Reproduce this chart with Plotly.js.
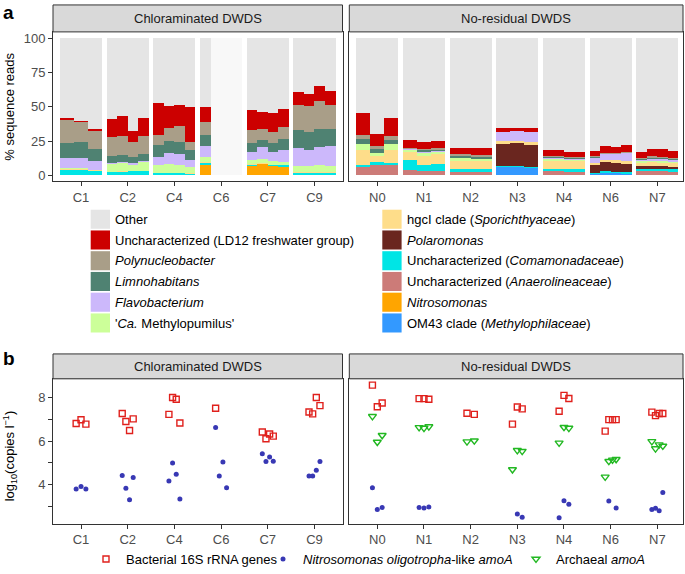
<!DOCTYPE html>
<html><head><meta charset="utf-8">
<script src="https://cdn.plot.ly/plotly-3.0.1.min.js"></script>
<style>html,body{margin:0;padding:0;background:#fff}</style>
</head><body><div id="chart" style="width:685px;height:574px"></div>
<script>
// ---------- Panel a: relative abundance (% sequence reads) ----------
const sitesChlor = ['C1','C2','C4','C6','C7','C9'];
const sitesNoRes = ['N0','N1','N2','N3','N4','N6','N7'];
const stripLabels = ['Chloraminated DWDS','No-residual DWDS'];

const sampleSiteA = ['C1','C1','C1','C2','C2','C2','C2','C4','C4','C4','C4','C6','C6','C6','C6',
  'C7','C7','C7','C7','C9','C9','C9','C9','N0','N0','N0','N1','N1','N1','N2','N2',
  'N3','N3','N3','N4','N4','N6','N6','N6','N6','N7','N7','N7','N7'];

const taxaNames = ['Other','Uncharacterized (LD12 freshwater group)','<i>Polynucleobacter</i>',
  '<i>Limnohabitans</i>','<i>Flavobacterium</i>',"'<i>Ca.</i> Methylopumilus'",
  'hgcI clade (<i>Sporichthyaceae</i>)','<i>Polaromonas</i>','Uncharacterized (<i>Comamonadaceae</i>)',
  'Uncharacterized (<i>Anaerolineaceae</i>)','<i>Nitrosomonas</i>','OM43 clade (<i>Methylophilaceae</i>)'];
const taxaColors = ['#e5e5e5','#cc0000','#a99e88','#4f8272','#ccb8fb','#ccff99',
  '#fedd8a','#6a261f','#00e5e5','#cc7b78','#ffa500','#3399ff'];
const noDataColor = '#f8f8f8';

const other   = [58.3,60.1,66.5, 59.0,57.0,67.6,57.9, 47.5,49.2,48.9,49.9, 50.1,null,null,null, 52.5,53.9,54.4,51.9, 38.8,40.6,34.9,38.4,
                 54.2,69.9,58.1, 74.3,75.9,74.8, 80.4,80.0, 65.3,65.6,65.8, 81.9,82.8, 82.2,79.0,79.2,78.2, 82.7,80.8,81.0,82.3];
const ld12    = [1.2,1.2,1.5, 13.0,14.0,8.4,13.5, 23.1,16.6,15.0,25.8, 11.1,null,null,null, 14.5,12.6,14.0,12.8, 10.1,8.9,10.9,10.6,
                 16.4,8.7,13.2, 5.5,4.8,5.5, 4.4,5.5, 2.9,1.9,2.4, 4.1,3.9, 4.1,4.8,4.6,5.1, 4.8,5.5,5.8,4.8];
const polynuc = [17.3,14.5,12.7, 13.7,14.0,10.9,13.0, 7.2,8.9,11.5,6.0, 9.1,null,null,null, 9.2,7.4,7.9,9.1, 18.1,18.6,20.7,16.9,
                 3.1,2.1,2.9, 0.7,1.2,1.0, 1.2,1.2, 0,0,0, 0.9,0.9, 0.6,0.4,0.4,0.4, 0.6,0.9,0.7,0.9];
const limno   = [10.9,11.6,8.7, 5.3,5.5,4.3,5.3, 8.9,9.2,9.2,7.3, 8.2,null,null,null, 6.5,5.8,7.0,7.7, 13.3,13.7,13.0,12.5,
                 3.4,2.9,3.1, 0.5,1.0,1.0, 1.2,1.2, 0,0,0, 0.8,0.8, 0.6,0.4,0.4,0.4, 0.6,0.8,0.7,0.8];
const flavo   = [6.7,7.2,6.5, 0.7,0.7,1.0,1.0, 5.6,7.9,8.2,5.0, 8.4,null,null,null, 6.5,8.7,6.3,8.5, 13.0,11.6,12.8,15.0,
                 0,0,0, 0.8,0.8,0.5, 0.3,0.3, 6.7,7.7,7.2, 0.3,0.3, 3.6,4.1,4.6,5.3, 1.2,1.9,1.7,1.2];
const methylo = [1.2,1.0,0.3, 5.8,6.0,4.8,6.3, 6.0,6.5,5.5,4.6, 3.6,null,null,null, 2.8,2.9,2.9,2.7, 4.3,4.3,5.4,4.3,
                 4.3,2.2,4.1, 0.9,2.1,1.8, 2.4,1.7, 0,0,0, 1.9,1.2, 0,0,0,0, 1.2,0.7,1.2,1.2];
const hgcI    = [0.3,0.3,0.5, 0.3,0.3,0.3,0.3, 0.3,0.3,0.3,0.5, 0.3,null,null,null, 0.3,0.4,0.3,0.2, 0.6,0.5,0.5,0.5,
                 10.9,4.8,9.7, 6.0,6.5,7.2, 5.3,5.5, 2.2,1.2,2.4, 5.3,5.3, 1.7,1.9,1.9,2.4, 2.4,2.9,2.4,3.1];
const polaro  = [0,0,0, 0,0,0,0, 0,0,0,0, 0,null,null,null, 0,0,0,0, 0,0,0,0,
                 0,0,0, 0,0,0, 0,0, 16.4,17.1,16.2, 0,0, 5.5,6.5,6.5,6.0, 1.9,1.7,1.7,1.4];
const comam   = [3.8,3.8,3.0, 1.9,2.2,2.4,2.4, 1.0,1.2,1.2,0.7, 1.7,null,null,null, 1.0,0.4,0.7,0.8, 1.5,1.5,1.5,1.5,
                 1.4,1.7,1.4, 7.2,4.8,5.3, 2.4,2.2, 0.7,0.7,0.7, 1.9,2.4, 0.7,1.2,1.0,1.0, 1.7,1.9,1.4,1.9];
const anaerol = [0.3,0.3,0.3, 0.3,0.3,0.3,0.3, 0.4,0.2,0.2,0.2, 0.3,null,null,null, 0.2,0,0,0, 0.3,0.3,0.3,0.3,
                 6.3,7.7,7.5, 4.1,2.9,2.9, 2.4,2.4, 0,0,0, 2.9,2.4, 0,0,0,0, 2.9,2.9,3.4,2.4];
const nitroso = [0,0,0, 0,0,0,0, 0,0,0,0, 7.2,null,null,null, 6.5,7.9,6.5,6.3, 0,0,0,0,
                 0,0,0, 0,0,0, 0,0, 0,0,0, 0,0, 0,0,0,0, 0,0,0,0];
const om43    = [0,0,0, 0,0,0,0, 0,0,0,0, 0,null,null,null, 0,0,0,0, 0,0,0,0,
                 0,0,0, 0,0,0, 0,0, 5.8,5.8,5.3, 0,0, 1.0,1.7,1.4,1.2, 0,0,0,0];
const noData  = [null,null,null, null,null,null,null, null,null,null,null, null,100,100,100, null,null,null,null, null,null,null,null,
                 null,null,null, null,null,null, null,null, null,null,null, null,null, null,null,null,null, null,null,null,null];
const taxaValues = [other, ld12, polynuc, limno, flavo, methylo, hgcI, polaro, comam, anaerol, nitroso, om43];

// ---------- Panel b: qPCR (log10 copies per litre) ----------
const sampleSiteB = ['C1','C1','C1','C2','C2','C2','C2','C4','C4','C4','C4','C6','C6','C6','C6',
  'C7','C7','C7','C7','C9','C9','C9','C9','N0','N0','N0','N1','N1','N1','N2','N2',
  'N3','N3','N3','N4','N4','N4','N6','N6','N6','N6','N7','N7','N7','N7'];
const bact16S = [6.81,6.98,6.78, 7.27,6.90,6.49,7.02, 7.23,8.00,7.92,6.83, 7.51,null,null,null, 6.42,6.11,6.33,6.23, 7.34,7.25,8.00,7.63,
                 8.57,7.58,7.75, 7.95,7.95,7.92, 7.28,7.23, 6.78,7.57,7.48, 7.37,8.10,7.96, 6.46,6.99,6.99,6.99, 7.33,7.17,7.27,7.27];
const nitroAmoA = [3.80,3.92,3.80, 4.42,3.84,3.31,4.33, 4.17,5.00,4.48,3.34, 6.63,4.40,5.04,3.86, 5.42,5.07,5.27,5.08, 4.40,4.40,4.67,5.07,
                 3.86,2.86,2.95, 2.95,2.93,2.98, null,null, null,2.66,2.51, 2.49,3.27,3.10, null,3.25,null,2.93, 2.86,2.92,2.81,3.64];
const archAmoA = [null,null,null, null,null,null,null, null,null,null,null, null,null,null,null, null,null,null,null, null,null,null,null,
                 7.14,5.96,6.27, 6.63,6.60,6.67, 5.98,6.02, 4.70,5.58,5.54, 5.92,6.64,6.60, 4.36,5.08,5.14,5.17, 5.99,5.66,5.84,5.78];
const seriesNamesB = ['Bacterial 16S rRNA genes','<i>Nitrosomonas oligotropha</i>-like <i>amoA</i>','Archaeal <i>amoA</i>'];
const yTicksB = [4,6,8];

// ---------- helpers ----------
const W = 685, H = 574;
const px = x => x / W;
const py = y => 1 - y / H;
function slots(sampleSites, span) {
  const counts = {}, seen = {};
  sampleSites.forEach(s => counts[s] = (counts[s] || 0) + 1);
  return sampleSites.map(s => {
    const j = seen[s] || 0; seen[s] = j + 1;
    const n = counts[s];
    const list = sitesChlor.includes(s) ? sitesChlor : sitesNoRes;
    const g = list.indexOf(s);
    return { panel: sitesChlor.includes(s) ? 0 : 1, x: g + (j - (n - 1) / 2) * span / n, w: span / n };
  });
}
const slotA = slots(sampleSiteA, 0.9);
const slotB = slots(sampleSiteB, 0.313);

const FONT = '"Liberation Sans", Arial, Helvetica, sans-serif';
const traces = [];

// stacked bars: bottom = last legend entry
[0, 1].forEach(panel => {
  const idx = slotA.map((s, i) => s.panel === panel ? i : -1).filter(i => i >= 0);
  const xa = panel === 0 ? 'x' : 'x2', ya = panel === 0 ? 'y' : 'y2';
  for (let t = taxaValues.length - 1; t >= 0; t--) {
    traces.push({
      type: 'bar', xaxis: xa, yaxis: ya, showlegend: false, hoverinfo: 'skip',
      name: taxaNames[t],
      x: idx.map(i => slotA[i].x), width: idx.map(i => slotA[i].w),
      y: idx.map(i => taxaValues[t][i]),
      marker: { color: taxaColors[t], line: { width: 0 } }
    });
  }
  traces.push({
    type: 'bar', xaxis: xa, yaxis: ya, showlegend: false, hoverinfo: 'skip', name: 'no data',
    x: idx.map(i => slotA[i].x), width: idx.map(i => slotA[i].w),
    y: idx.map(i => noData[i]), marker: { color: noDataColor, line: { width: 0 } }
  });
});

// points
const styleB = [
  { symbol: 'square-open', color: '#e0201c', size: 6, lw: 1.4 },
  { symbol: 'circle', color: '#3838b4', size: 5, lw: 0 },
  { symbol: 'triangle-down-open', color: '#22b822', size: 7, lw: 1.4 }
];
const legendIds = ['legend', 'legend2', 'legend3'];
const legendSymbolX = [107, 284, 537];
const seriesB = [bact16S, nitroAmoA, archAmoA];
seriesB.forEach((vals, k) => {
  [0, 1].forEach(panel => {
    const idx = slotB.map((s, i) => s.panel === panel ? i : -1).filter(i => i >= 0);
    traces.push({
      type: 'scatter', mode: 'markers', xaxis: panel === 0 ? 'x3' : 'x4', yaxis: panel === 0 ? 'y3' : 'y4',
      name: seriesNamesB[k], legend: legendIds[k], legendgroup: 'g' + k, showlegend: panel === 1, hoverinfo: 'skip',
      x: idx.map(i => slotB[i].x), y: idx.map(i => vals[i]),
      marker: { symbol: styleB[k].symbol, size: styleB[k].size, color: styleB[k].color,
                line: { width: styleB[k].lw, color: styleB[k].color } }
    });
  });
});

// axes
const tickFont = { family: FONT, size: 13, color: '#4d4d4d' };
const baseX = { showgrid: false, zeroline: false, showline: true, mirror: true, linecolor: '#333', linewidth: 1,
  ticks: 'outside', ticklen: 4, tickcolor: '#333', tickfont: tickFont, fixedrange: true };
const baseY = Object.assign({}, baseX);
const domL = [px(53), px(342.5)], domR = [px(349.3), px(683)];
const domA = [py(183.3), py(32.3)], domB = [py(530), py(383.5)];

const layout = {
  width: W, height: H, margin: { l: 0, r: 0, t: 0, b: 0 },
  paper_bgcolor: '#fff', plot_bgcolor: '#fff', barmode: 'stack',
  font: { family: FONT, size: 13, color: '#000' },
  xaxis:  Object.assign({}, baseX, { domain: domL, anchor: 'y',  range: [-0.6, sitesChlor.length - 0.4], tickvals: sitesChlor.map((s, i) => i), ticktext: sitesChlor }),
  xaxis2: Object.assign({}, baseX, { domain: domR, anchor: 'y2', range: [-0.6, sitesNoRes.length - 0.45], tickvals: sitesNoRes.map((s, i) => i), ticktext: sitesNoRes }),
  yaxis:  Object.assign({}, baseY, { domain: domA, anchor: 'x',  range: [-4.3, 104.8], tickvals: [0, 25, 50, 75, 100] }),
  yaxis2: Object.assign({}, baseY, { domain: domA, anchor: 'x2', range: [-4.3, 104.8], ticks: '', showticklabels: false }),
  xaxis3: Object.assign({}, baseX, { domain: domL, anchor: 'y3', range: [-0.6, sitesChlor.length - 0.4], tickvals: sitesChlor.map((s, i) => i), ticktext: sitesChlor }),
  xaxis4: Object.assign({}, baseX, { domain: domR, anchor: 'y4', range: [-0.6, sitesNoRes.length - 0.45], tickvals: sitesNoRes.map((s, i) => i), ticktext: sitesNoRes }),
  yaxis3: Object.assign({}, baseY, { domain: domB, anchor: 'x3', range: [2.22, 8.86], tickvals: yTicksB,
            minor: { tick0: 0, dtick: 1, ticks: 'outside', ticklen: 4, tickcolor: '#333', showgrid: false } }),
  yaxis4: Object.assign({}, baseY, { domain: domB, anchor: 'x4', range: [2.22, 8.86], ticks: '', showticklabels: false }),
  showlegend: true,
  shapes: [], annotations: []
};
legendIds.forEach((id, k) => {
  layout[id] = { orientation: 'h', x: px(legendSymbolX[k] - 21), y: py(566), xanchor: 'left', yanchor: 'middle',
    font: { family: FONT, size: 13, color: '#000' }, bgcolor: 'rgba(0,0,0,0)', itemwidth: 30 };
});

// facet strips
const strips = [[53, 342.5, 5, 32.3], [349.3, 683, 5, 32.3], [53, 342.5, 358.3, 383.5], [349.3, 683, 358.3, 383.5]];
strips.forEach((s, i) => {
  layout.shapes.push({ type: 'rect', xref: 'paper', yref: 'paper', x0: px(s[0]), x1: px(s[1]), y0: py(s[3]), y1: py(s[2]),
    fillcolor: '#d9d9d9', line: { color: '#333', width: 1 }, layer: 'above' });
  layout.annotations.push({ xref: 'paper', yref: 'paper', x: px((s[0] + s[1]) / 2), y: py((s[2] + s[3]) / 2),
    text: stripLabels[i % 2], showarrow: false, xanchor: 'center', yanchor: 'middle', font: { family: FONT, size: 13, color: '#1a1a1a' } });
});

// panel letters and axis titles
layout.annotations.push({ xref: 'paper', yref: 'paper', x: px(1), y: py(0), text: '<b>a</b>', showarrow: false, xanchor: 'left', yanchor: 'top', font: { family: FONT, size: 19, color: '#000' } });
layout.annotations.push({ xref: 'paper', yref: 'paper', x: px(1), y: py(363), text: '<b>b</b>', showarrow: false, xanchor: 'left', yanchor: 'middle', font: { family: FONT, size: 19, color: '#000' } });
layout.annotations.push({ xref: 'paper', yref: 'paper', x: px(10), y: py(108), text: '% sequence reads', textangle: -90, showarrow: false, xanchor: 'center', yanchor: 'middle', font: { family: FONT, size: 13, color: '#000' } });
layout.annotations.push({ xref: 'paper', yref: 'paper', x: px(10), y: py(462), text: 'log<sub>10</sub>(copies l<sup>−1</sup>)', textangle: -90, showarrow: false, xanchor: 'center', yanchor: 'middle', font: { family: FONT, size: 13, color: '#000' } });

// legend of panel a (two columns of six)
taxaNames.forEach((name, i) => {
  const col = Math.floor(i / 6), row = i % 6;
  const sx = col === 0 ? 90.7 : 382.3;
  const top = 212.3 + 21 * row;
  layout.shapes.push({ type: 'rect', xref: 'paper', yref: 'paper', x0: px(sx), x1: px(sx + 19.3), y0: py(top + 19.3), y1: py(top),
    fillcolor: taxaColors[i], line: { width: 0 } });
  layout.annotations.push({ xref: 'paper', yref: 'paper', x: px(sx + 22.5), y: py(top + 9.8), text: name, showarrow: false,
    xanchor: 'left', yanchor: 'middle', font: { family: FONT, size: 13, color: '#000' } });
});

Plotly.newPlot('chart', traces, layout, { staticPlot: true, displayModeBar: false });
</script>
</body></html>
